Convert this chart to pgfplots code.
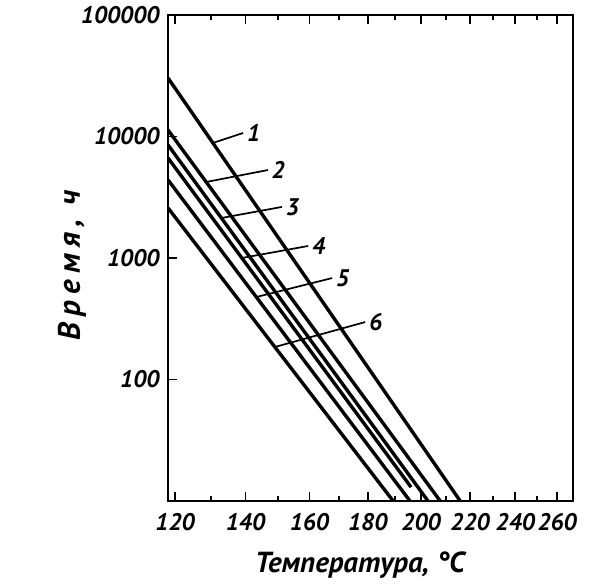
\documentclass[border=0pt]{standalone}
\usepackage{fontspec}
\setmainfont{PT Sans}
\usepackage{pgfplots}
\pgfplotsset{compat=1.18}
\begin{document}
\begin{tikzpicture}
\begin{axis}[
  scale only axis, width=405pt, height=486pt,
  x coord trafo/.code={\pgfmathparse{-1000/(#1+273.15)}},
  xmin=118.1, xmax=268,
  ymode=log, ymin=10, ymax=100000,
  xtick={120,140,160,180,200,220,240,260},
  xticklabels={120,140,160,180,200,220,240,260},
  minor xtick={130,150,170,190,210,230,250},
  ytick={100,1000,10000,100000},
  yticklabels={100,1000,10000,\raisebox{-18pt}{100000}},
  yminorticks=false,
  ytick pos=left,
  tick align=inside,
  major tick length=9pt, minor tick length=5pt,
  every tick/.style={black, line width=1.8pt},
  axis line style={line width=2.4pt},
  ticklabel style={font=\fontsize{24}{24}\selectfont\bfseries\itshape},
  xticklabel style={yshift=-9pt},
  yticklabel style={xshift=-5pt},
  xlabel={Температура, °C},
  ylabel={Время, ч},
  label style={font=\fontsize{29}{29}\selectfont\bfseries\itshape},
  xlabel style={at={(axis description cs:0.474,-0.132)},anchor=center},
  ylabel style={at={(axis description cs:-0.237,0.485)},anchor=center,font=\fontsize{31}{31}\selectfont\bfseries\itshape\addfontfeatures{LetterSpace=20}},
]
% main lines
\addplot[black, line width=3.4pt] coordinates {(118.1,30270) (215.8,10)};
\addplot[black, line width=3.4pt] coordinates {(118.1,11300) (207.6,10)};
\addplot[black, line width=3.4pt] coordinates {(118.1,8510) (202.7,10)};
\addplot[black, line width=3.4pt] coordinates {(118.1,6650) (196.1,13)};
\addplot[black, line width=3.4pt] coordinates {(118.1,4390) (195.7,10)};
\addplot[black, line width=3.4pt] coordinates {(118.1,2580) (189.3,10)};
% leaders and labels
\addplot[black, line width=1.7pt] coordinates {(130.5,8850) (139.3,10690)} node[pos=1, anchor=west, inner sep=3pt, font=\fontsize{24}{24}\selectfont\bfseries\itshape] {1};
\addplot[black, line width=1.7pt] coordinates {(128.6,4222) (146.8,5297)} node[pos=1, anchor=west, inner sep=3pt, font=\fontsize{24}{24}\selectfont\bfseries\itshape] {2};
\addplot[black, line width=1.7pt] coordinates {(132.9,2133) (151.2,2633)} node[pos=1, anchor=west, inner sep=3pt, font=\fontsize{24}{24}\selectfont\bfseries\itshape] {3};
\addplot[black, line width=1.7pt] coordinates {(138.9,1000) (159.6,1256)} node[pos=1, anchor=west, inner sep=3pt, font=\fontsize{24}{24}\selectfont\bfseries\itshape] {4};
\addplot[black, line width=1.7pt] coordinates {(143.2,477) (167.6,684)} node[pos=1, anchor=west, inner sep=3pt, font=\fontsize{24}{24}\selectfont\bfseries\itshape] {5};
\addplot[black, line width=1.7pt] coordinates {(148.9,185) (179.1,297)} node[pos=1, anchor=west, inner sep=3pt, font=\fontsize{24}{24}\selectfont\bfseries\itshape] {6};
\end{axis}
\path (current axis.south west) ++(-168pt,-87pt) (current axis.north east) ++(37pt,15pt);
\end{tikzpicture}
\end{document}
